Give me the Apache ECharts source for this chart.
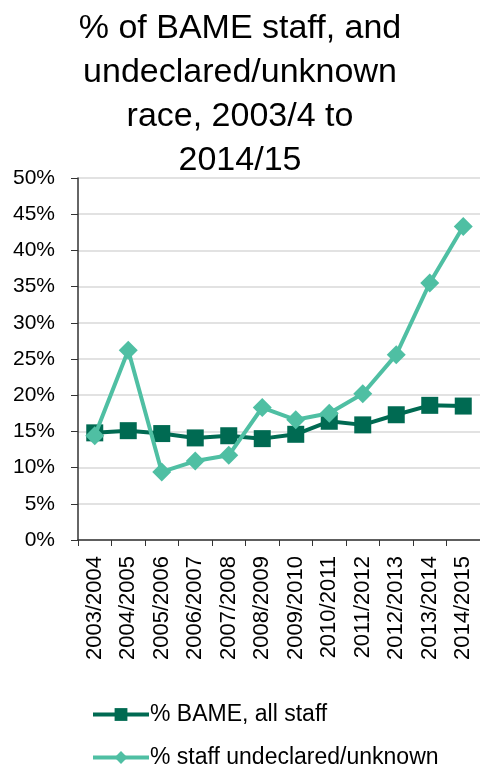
<!DOCTYPE html>
<html>
<head>
<meta charset="utf-8">
<script src="https://cdn.jsdelivr.net/npm/echarts@6/dist/echarts.min.js"></script>
<style>
  html, body { margin: 0; padding: 0; background: #fff; }
  #chart { width: 480px; height: 766px; }
</style>
</head>
<body>
<div id="chart"></div>
<script>
var years = ['2003/2004', '2004/2005', '2005/2006', '2006/2007', '2007/2008', '2008/2009',
  '2009/2010', '2010/2011', '2011/2012', '2012/2013', '2013/2014', '2014/2015']
var bameAll = [14.8, 15.1, 14.7, 14.1, 14.4, 14.0, 14.6, 16.4, 15.9, 17.3, 18.6, 18.5]
var undeclared = [14.4, 26.2, 9.4, 10.9, 11.7, 18.3, 16.6, 17.5, 20.2, 25.6, 35.5, 43.3]

var font = 'Liberation Sans, Arial, sans-serif'
var legendBase = {
  orient: 'vertical',
  left: 86,
  itemWidth: 56,
  itemHeight: 16,
  lineStyle: { width: 4 },
  textStyle: { color: '#000', fontSize: 23, fontFamily: font, padding: [0, 0, 0, -4] }
}

var chart = echarts.init(document.getElementById('chart'))
chart.setOption({
  backgroundColor: '#fff',
  animation: false,
  textStyle: { fontFamily: font },
  title: {
    text: '% of BAME staff, and\nundeclared/unknown\nrace, 2003/4 to\n2014/15',
    left: 'center',
    top: 2,
    textStyle: {
      color: '#000',
      fontSize: 34,
      fontWeight: 'normal',
      lineHeight: 44,
      fontFamily: font
    }
  },
  legend: [
    Object.assign({ top: 698, data: ['% BAME, all staff'] }, legendBase),
    Object.assign({ top: 741, data: ['% staff undeclared/unknown'] }, legendBase)
  ],
  grid: { left: 78, right: 0, top: 178, bottom: 226, containLabel: false },
  xAxis: {
    type: 'category',
    data: years,
    boundaryGap: true,
    axisLine: { lineStyle: { color: '#333', width: 1.5 } },
    axisTick: { show: true, length: 6, lineStyle: { color: '#333' } },
    axisLabel: { rotate: 90, color: '#000', fontSize: 22, margin: 16, interval: 0 }
  },
  yAxis: {
    type: 'value',
    min: 0,
    max: 50,
    interval: 5,
    axisLine: { show: true, lineStyle: { color: '#333', width: 1.5 } },
    axisTick: { show: true, length: 7, lineStyle: { color: '#333' } },
    splitLine: { lineStyle: { color: '#d9d9d9', width: 1.5 } },
    axisLabel: { color: '#000', fontSize: 21, margin: 23, formatter: '{value}%' }
  },
  series: [
    {
      name: '% BAME, all staff',
      type: 'line',
      data: bameAll,
      symbol: 'rect',
      symbolSize: 17,
      z: 3,
      lineStyle: { color: '#006A52', width: 4 },
      itemStyle: { color: '#006A52' }
    },
    {
      name: '% staff undeclared/unknown',
      type: 'line',
      data: undeclared,
      symbol: 'diamond',
      symbolSize: 19,
      z: 4,
      lineStyle: { color: '#4FBFA3', width: 4 },
      itemStyle: { color: '#4FBFA3' }
    }
  ]
})
</script>
</body>
</html>
